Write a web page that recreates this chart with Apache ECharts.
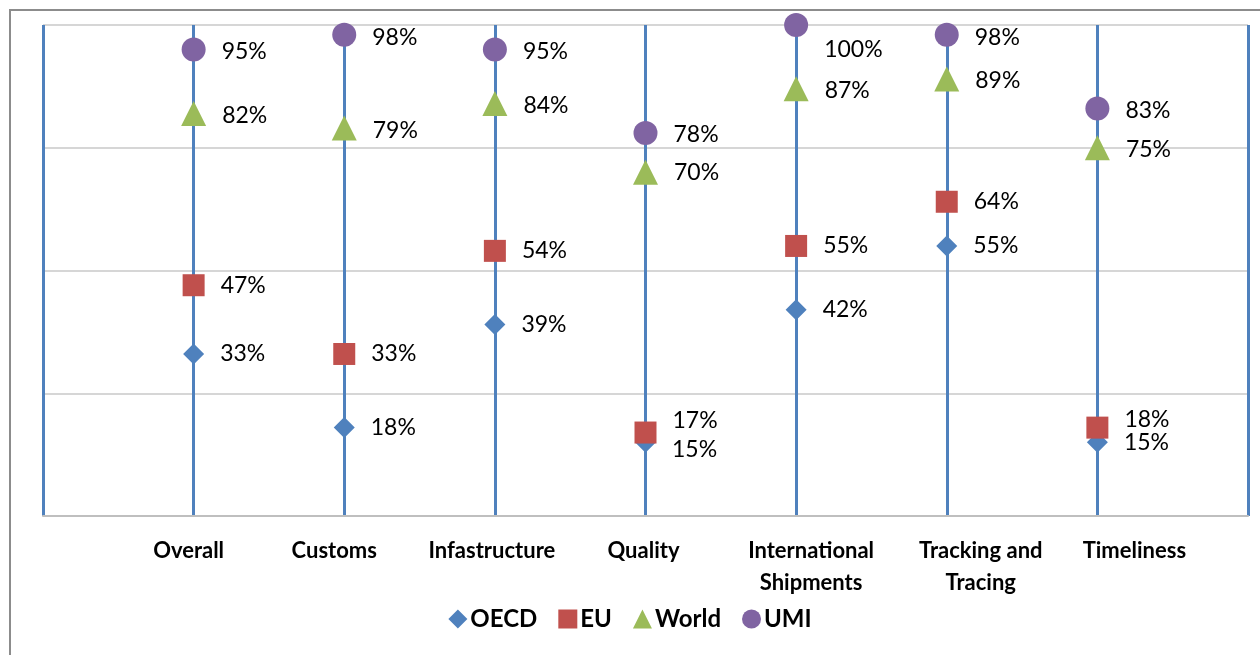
<!DOCTYPE html>
<html>
<head>
<meta charset="utf-8">
<script src="https://cdn.jsdelivr.net/npm/echarts@6/dist/echarts.min.js"></script>
<style>
  html, body { margin: 0; padding: 0; background: #fff; }
  #chart { width: 1260px; height: 655px; }
</style>
</head>
<body>
<div id="chart"></div>
<script>
// categories along the bottom
const categories = ['Overall', 'Customs', 'Infastructure', 'Quality', 'International\nShipments', 'Tracking and\nTracing', 'Timeliness'];

// percent values per group
const oecd  = [33, 18, 39, 15, 42, 55, 15];
const eu    = [47, 33, 54, 17, 55, 64, 18];
const world = [82, 79, 84, 70, 87, 89, 75];
const umi   = [95, 98, 95, 78, 100, 98, 83];

// small layout tweaks (label nudges, like the original chart)
const labelShift = [-5, -10, -3, -2, 15, 34, 37];
const oecdLabelDy = [0, 0, 0, 7, 0, 0, 0];
const euLabelDy   = [0, 0, 0, -12, 0, 0, -8];
const umiLabelDy  = [2, 3, 2, 2, 25, 3, 2];
const worldLabelDy = [2, 2, 2, 0, 2, 2, 2];

const font = 'Lato, "Open Sans", sans-serif';

function toData(values, dy) {
    return values.map((v, i) => {
        const item = { value: [i + 1, v] };
        if (dy && dy[i]) item.label = { offset: [0, dy[i]] };
        return item;
    });
}

function makeSeries(name, values, symbol, size, color, dy) {
    return {
        name: name,
        type: 'scatter',
        data: toData(values, dy),
        symbol: symbol,
        symbolSize: size,
        itemStyle: { color: color, opacity: 1 },
        label: {
            show: true,
            position: 'right',
            distance: 16,
            formatter: (p) => p.value[1] + '%',
            color: '#000',
            fontFamily: font,
            fontSize: 23
        },
        emphasis: { disabled: true }
    };
}

let chart = echarts.init(document.getElementById('chart'));

let option = {
    animation: false,
    graphic: [{
        type: 'rect',
        shape: { x: 10, y: 10, width: 1280, height: 680 },
        style: { fill: 'none', stroke: '#8c8c8c', lineWidth: 2 },
        silent: true
    }],
    grid: { left: 43, right: 12, top: 25, bottom: 139 },
    legend: {
        bottom: 19,
        left: 'center',
        itemWidth: 19,
        itemHeight: 19,
        itemGap: 21,
        textStyle: { fontFamily: font, fontSize: 24, fontWeight: 'bold', color: '#000', padding: [0, 0, 0, -2] },
        data: [
            { name: 'OECD', icon: 'diamond' },
            { name: 'EU', icon: 'rect' },
            { name: 'World', icon: 'triangle' },
            { name: 'UMI', icon: 'circle' }
        ]
    },
    xAxis: {
        type: 'value',
        min: 0,
        max: 8,
        interval: 1,
        axisLine: { show: true, onZero: false, lineStyle: { color: '#bfbfbf', width: 2 } },
        axisTick: { show: false },
        splitLine: { show: true, lineStyle: { color: '#4F81BD', width: 3 } },
        axisLabel: {
            margin: 19,
            formatter: (v) => {
                const name = categories[v - 1];
                if (!name) return '';
                const s = labelShift[v - 1];
                const key = s >= 0 ? 'r' + (v - 1) : 'l' + (v - 1);
                return name.split('\n').map(t => '{' + key + '|' + t + '}').join('\n');
            },
            rich: (() => {
                const r = {};
                labelShift.forEach((s, i) => {
                    const base = { fontFamily: font, fontSize: 22, fontWeight: 'bold', color: '#000', lineHeight: 32 };
                    if (s >= 0) r['r' + i] = Object.assign({ padding: [0, 0, 0, 2 * s] }, base);
                    else r['l' + i] = Object.assign({ padding: [0, -2 * s, 0, 0] }, base);
                });
                return r;
            })()
        }
    },
    yAxis: {
        type: 'value',
        min: 0,
        max: 100,
        interval: 25,
        axisLine: { show: false },
        axisTick: { show: false },
        axisLabel: { show: false },
        splitLine: { show: true, lineStyle: { color: '#c8c8c8', width: 1.5 } }
    },
    series: [
        makeSeries('OECD', oecd, 'diamond', 21, '#4F81BD', oecdLabelDy),
        makeSeries('EU', eu, 'rect', 22, '#C0504D', euLabelDy),
        makeSeries('World', world, 'triangle', 25, '#9BBB59', worldLabelDy),
        makeSeries('UMI', umi, 'circle', 24, '#8064A2', umiLabelDy)
    ]
};

chart.setOption(option);
</script>
</body>
</html>
